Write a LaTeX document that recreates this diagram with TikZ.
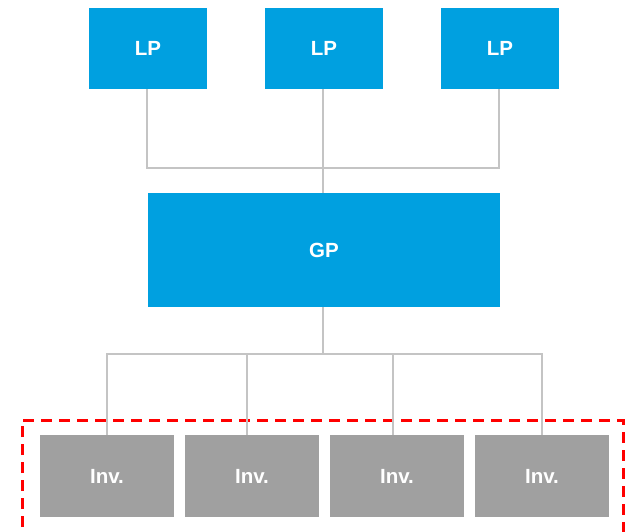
\documentclass[tikz,border=0pt]{standalone}
\usepackage{fontspec}
\setmainfont{Liberation Sans}
\definecolor{lpblue}{HTML}{00A0E0}
\definecolor{invgray}{HTML}{A0A0A0}
\definecolor{linegray}{HTML}{C4C4C4}
\definecolor{framered}{HTML}{FF0000}
\begin{document}
\begin{tikzpicture}[x=1pt,y=-1pt,
  bluebox/.style={fill=lpblue,draw=none,text=white,font=\fontsize{20.5}{20.5}\selectfont\bfseries,inner sep=0pt},
  invbox/.style={fill=invgray,draw=none,text=white,font=\fontsize{20.5}{20.5}\selectfont\bfseries,inner sep=0pt,minimum width=134pt,minimum height=82pt},
  lpbox/.style={bluebox,minimum width=118pt,minimum height=81pt},
  conn/.style={draw=linegray,line width=2pt}]
\useasboundingbox (0,0) rectangle (627,532);
% frame
\draw[framered,line width=3pt,dash pattern=on 11pt off 7pt] (22,545) -- (22,420) -- (623,420) -- (623,545);
% top
\node[lpbox] (lp1) at (148,48.5) {LP};
\node[lpbox] (lp2) at (324,48.5) {LP};
\node[lpbox] (lp3) at (500,48.5) {LP};
\node[bluebox,minimum width=352pt,minimum height=114pt] (gp) at (324,250) {GP};
\coordinate (jt) at (323,168.5);
\draw[conn] (lp1.south -| 147,0) |- (jt) -| (lp3.south -| 499,0);
\draw[conn] (lp2.south -| 323,0) -- (gp.north -| 323,0);
% bottom
\node[invbox] (i1) at (107,476) {Inv.};
\node[invbox] (i2) at (252,476) {Inv.};
\node[invbox] (i3) at (397,476) {Inv.};
\node[invbox] (i4) at (542,476) {Inv.};
\coordinate (jb) at (323,354);
\draw[conn] (gp.south -| 323,0) -- (jb);
\draw[conn] (i1.north -| 107,0) |- (jb) -| (i4.north -| 542,0);
\draw[conn] (i2.north -| 247,0) -- (247,354);
\draw[conn] (i3.north -| 393,0) -- (393,354);
\end{tikzpicture}
\end{document}
